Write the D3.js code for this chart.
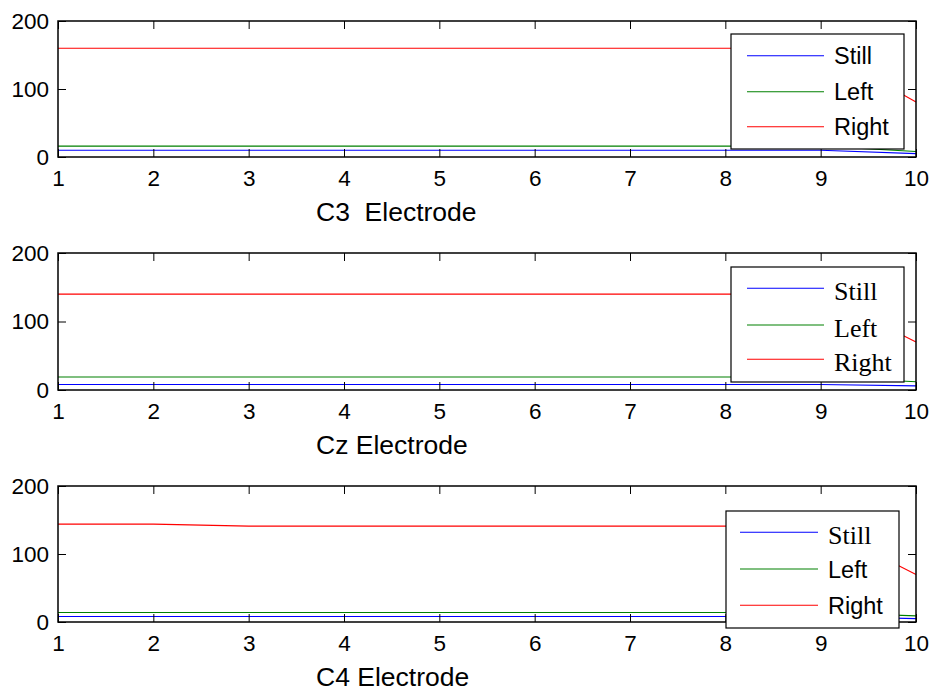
<!DOCTYPE html>
<html>
<head>
<meta charset="utf-8">
<script src="https://cdn.jsdelivr.net/npm/d3@7"></script>
<style>
  body { margin: 0; background: #fff; }
  svg { display: block; }
</style>
</head>
<body>
<script>
// trial index on x axis
var trials = [1, 2, 3, 4, 5, 6, 7, 8, 9, 10];
var yTicks = [0, 100, 200];
var seriesNames = ["Still", "Left", "Right"];
var seriesColors = ["#0000ff", "#008000", "#ff0000"];

// C3 electrode
var c3Still = [10, 10, 10, 10, 10, 10, 10, 10, 10, 5];
var c3Left  = [16, 16, 16, 16, 16, 16, 16, 16, 16, 8];
var c3Right = [160, 160, 160, 160, 160, 160, 160, 160, 160, 81];

// Cz electrode
var czStill = [8, 8, 8, 8, 8, 8, 8, 8, 8, 6];
var czLeft  = [19, 19, 19, 19, 19, 19, 19, 19, 19, 12];
var czRight = [140, 140, 140, 140, 140, 140, 140, 140, 140, 70];

// C4 electrode
var c4Still = [8, 8, 8, 8, 8, 8, 8, 8, 8, 5];
var c4Left  = [14, 14, 14, 14, 14, 14, 14, 14, 14, 9];
var c4Right = [144, 144, 141, 141, 141, 141, 141, 141, 141, 70];

var width = 934, height = 691;
var left = 58, right = 916;
var sans = "'Liberation Sans', Arial, sans-serif";
var serif = "'Liberation Serif', 'Times New Roman', serif";

var panels = [
  { label: "C3\u00a0\u00a0Electrode", top: 21, bottom: 157, series: [c3Still, c3Left, c3Right],
    legend: { x0: 731, x1: 904, y0: 34, y1: 149, lx0: 747, lx1: 824, tx: 834, rows: [55.7, 91.7, 126.7],
      fonts: [sans, sans, sans] } },
  { label: "Cz Electrode", top: 253, bottom: 390, series: [czStill, czLeft, czRight],
    legend: { x0: 731, x1: 904, y0: 267, y1: 382, lx0: 747, lx1: 824, tx: 834, rows: [288.3, 325, 359.3],
      fonts: [serif, serif, serif] } },
  { label: "C4 Electrode", top: 486, bottom: 622, series: [c4Still, c4Left, c4Right],
    legend: { x0: 726, x1: 899, y0: 511, y1: 628, lx0: 740, lx1: 818, tx: 828, rows: [532.3, 569, 605.3],
      fonts: [serif, sans, sans] } }
];

var svg = d3.select("body").append("svg")
  .attr("width", width)
  .attr("height", height);

var x = d3.scaleLinear().domain([1, 10]).range([left, right]);

panels.forEach(function(p) {
  var y = d3.scaleLinear().domain([0, 200]).range([p.bottom, p.top]);
  var g = svg.append("g");

  // data lines
  var line = d3.line()
    .x(function(d, i) { return x(trials[i]); })
    .y(function(d) { return y(d); });

  p.series.forEach(function(s, i) {
    g.append("path")
      .datum(s)
      .attr("d", line)
      .attr("fill", "none")
      .attr("stroke", seriesColors[i])
      .attr("stroke-width", 1.1);
  });

  // axes, ticks pointing inward
  var xb = g.append("g").attr("transform", "translate(0," + p.bottom + ")")
    .call(d3.axisBottom(x).tickValues(trials).tickSize(-8).tickPadding(13).tickFormat(d3.format("d")));
  var xt = g.append("g").attr("transform", "translate(0," + p.top + ")")
    .call(d3.axisTop(x).tickValues(trials).tickSize(-8).tickFormat(""));
  var yl = g.append("g").attr("transform", "translate(" + left + ",0)")
    .call(d3.axisLeft(y).tickValues(yTicks).tickSize(-8).tickPadding(9));
  var yr = g.append("g").attr("transform", "translate(" + right + ",0)")
    .call(d3.axisRight(y).tickValues(yTicks).tickSize(-8).tickFormat(""));

  [xb, xt, yl, yr].forEach(function(a) {
    a.select(".domain").remove();
    a.selectAll(".tick line").attr("stroke", "#000").attr("stroke-width", 1);
    a.selectAll("text")
      .attr("fill", "#000")
      .style("font-family", sans)
      .style("font-size", "22.5px");
  });

  // box
  g.append("rect")
    .attr("x", left).attr("y", p.top)
    .attr("width", right - left).attr("height", p.bottom - p.top)
    .attr("fill", "none")
    .attr("stroke", "#000")
    .attr("stroke-width", 1.5);

  // x label
  g.append("text")
    .attr("x", 316)
    .attr("y", p.bottom + 64)
    .style("font-family", sans)
    .style("font-size", "26.5px")
    .text(p.label);

  // legend
  var L = p.legend;
  g.append("rect")
    .attr("x", L.x0).attr("y", L.y0)
    .attr("width", L.x1 - L.x0).attr("height", L.y1 - L.y0)
    .attr("fill", "#fff")
    .attr("stroke", "#000")
    .attr("stroke-width", 1.2);

  seriesNames.forEach(function(name, i) {
    var ry = L.rows[i];
    g.append("line")
      .attr("x1", L.lx0).attr("x2", L.lx1)
      .attr("y1", ry).attr("y2", ry)
      .attr("stroke", seriesColors[i])
      .attr("stroke-width", 1.1);
    var isSerif = L.fonts[i] === serif;
    g.append("text")
      .attr("x", L.tx)
      .attr("y", ry)
      .attr("dy", isSerif ? "0.45em" : "0.37em")
      .style("font-family", L.fonts[i])
      .style("font-size", isSerif ? "26px" : "23.5px")
      .text(name);
  });
});
</script>
</body>
</html>
